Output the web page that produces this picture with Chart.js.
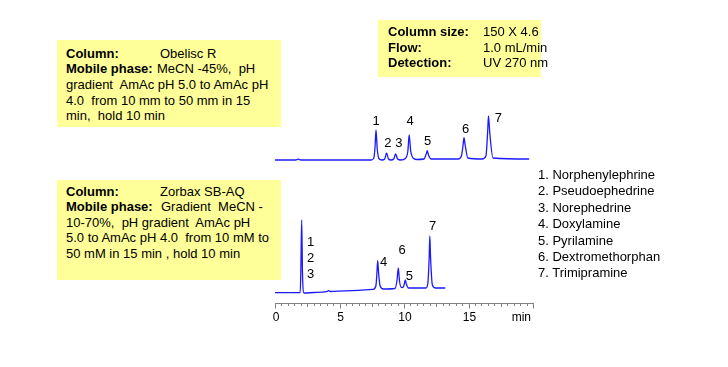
<!DOCTYPE html>
<html>
<head>
<meta charset="utf-8">
<script src="https://cdn.jsdelivr.net/npm/chart.js@4"></script>
<style>
  html, body { margin: 0; padding: 0; background: #fff; }
  body { width: 728px; height: 367px; position: relative; overflow: hidden;
         font-family: Arial, "Liberation Sans", sans-serif; font-size: 13px; color: #000; }
  #chart { position: absolute; left: 0; top: 0; }
  .box { position: absolute; background: #ffff99; box-sizing: border-box; }
  .box div { white-space: pre; }
  .box b { display: inline-block; }
  #legend { position: absolute; left: 538px; top: 167px; line-height: 16.4px; white-space: pre; }
</style>
</head>
<body>
<canvas id="chart" width="728" height="367"></canvas>

<div class="box" style="left:57px;top:40px;width:224px;height:87px;padding:5.5px 0 0 9px;line-height:15.7px;">
  <div><b style="width:94px">Column:</b>Obelisc R</div>
  <div><b style="width:91px">Mobile phase:</b>MeCN -45%,  pH</div>
  <div>gradient  AmAc pH 5.0 to AmAc pH</div>
  <div>4.0  from 10 mm to 50 mm in 15</div>
  <div>min,  hold 10 min</div>
</div>

<div class="box" style="left:57px;top:180px;width:224px;height:100px;padding:4px 0 0 9px;line-height:15.4px;">
  <div><b style="width:94px">Column:</b>Zorbax SB-AQ</div>
  <div><b style="width:95px">Mobile phase:</b>Gradient  MeCN -</div>
  <div>10-70%,  pH gradient  AmAc pH</div>
  <div>5.0 to AmAc pH 4.0  from 10 mM to</div>
  <div>50 mM in 15 min , hold 10 min</div>
</div>

<div class="box" style="left:378px;top:20px;width:163px;height:57px;padding:3.8px 0 0 10px;line-height:15.8px;">
  <div><b style="width:95px">Column size:</b>150 X 4.6</div>
  <div><b style="width:95px">Flow:</b>1.0 mL/min</div>
  <div><b style="width:95px">Detection:</b>UV 270 nm</div>
</div>

<div id="legend"></div>

<script>
// Compounds
const compounds = ['Norphenylephrine', 'Pseudoephedrine', 'Norephedrine', 'Doxylamine',
                   'Pyrilamine', 'Dextromethorphan', 'Trimipramine'];

// Upper chromatogram (Obelisc R): time in min, detector signal
const upperTime = [0, 1.6, 1.8, 2.0, 7.45, 7.65, 7.75, 7.83, 7.92, 8.05, 8.3, 8.5, 8.65, 8.8,
                   9.0, 9.2, 9.35, 9.5, 9.75, 10.1, 10.3, 10.4, 10.52, 10.75, 11.0, 11.55, 11.72,
                   11.8, 11.9, 12.1, 14.2, 14.45, 14.58, 14.65, 14.74, 14.95, 16.05, 16.35, 16.48,
                   16.55, 16.65, 16.9, 19.7];
const upperSignal = [143, 143, 143.8, 143, 143, 144.5, 155, 173, 155, 144.5, 143, 144, 150, 144,
                     143, 144, 149, 144, 143, 144.5, 152, 168, 152, 144.5, 143.5, 144, 149,
                     152.3, 148, 144, 144, 147, 158, 165.3, 158, 145, 144, 147, 170,
                     187, 170, 145, 144];

// Lower chromatogram (Zorbax SB-AQ)
const lowerTime = [0, 1.95, 2.0, 2.07, 2.13, 2.25, 3.0, 4.0, 4.15, 4.3, 5.5, 7.6, 7.82, 7.9,
                   7.96, 8.03, 8.15, 8.4, 9.3, 9.45, 9.56, 9.65, 9.8, 9.95, 10.02, 10.1, 10.18,
                   10.35, 11.7, 11.85, 11.95, 12.0, 12.06, 12.2, 12.45, 13.2];
const lowerSignal = [10.3, 10.3, 30, 83, 30, 10, 10.5, 11.3, 12.3, 11.5, 12.2, 13.7, 17, 30,
                     42.3, 30, 17, 14, 14.5, 22, 35, 22, 15.5, 16, 19, 23, 19,
                     15, 15, 20, 45, 67, 45, 18, 15, 15];

// Peak numbers and where they are written
const peakText = ['1', '2', '3', '4', '5', '6', '7', '1', '2', '3', '4', '6', '5', '7'];
const peakTextTime = [7.83, 8.74, 9.61, 10.47, 11.84, 14.78, 17.31, 2.77, 2.77, 2.77, 8.42, 9.85, 10.42, 12.22];
const peakTextSignal = [181.3, 160, 160, 181.3, 161.3, 173.7, 184.7, 60.3, 45, 29, 41, 53, 26.3, 76.3];

// Time axis
const majorTicks = [0, 5, 10, 15, 20];
const tickLabels = ['0', '5', '10', '15', 'min'];

document.getElementById('legend').textContent =
  compounds.map((c, i) => (i + 1) + '. ' + c).join('\n');

const toPoints = (ts, vs) => ts.map((t, i) => ({ x: t, y: vs[i] }));

const axisAndLabels = {
  id: 'axisAndLabels',
  afterDatasetsDraw(chart) {
    const { ctx, scales: { x, y } } = chart;
    ctx.save();
    const y0 = Math.round(y.getPixelForValue(0)) + 0.5;
    ctx.strokeStyle = '#808080';
    ctx.lineWidth = 1;
    ctx.beginPath();
    ctx.moveTo(x.getPixelForValue(0), y0);
    ctx.lineTo(x.getPixelForValue(20) + 1, y0);
    for (let t = 0; t <= 20; t += 0.5) {
      const px = Math.round(x.getPixelForValue(t)) + 0.5;
      const len = t % 5 === 0 ? 5 : (t % 2.5 === 0 ? 3.5 : 2.5);
      ctx.moveTo(px, y0);
      ctx.lineTo(px, y0 + len);
    }
    ctx.stroke();

    ctx.fillStyle = '#000';
    ctx.font = '12px Arial, "Liberation Sans", sans-serif';
    ctx.textBaseline = 'middle';
    majorTicks.forEach((t, i) => {
      const last = i === majorTicks.length - 1;
      ctx.textAlign = last ? 'right' : 'center';
      ctx.fillText(tickLabels[i], x.getPixelForValue(t) + (last ? -2 : 1), y0 + 14);
    });

    ctx.font = '13px Arial, "Liberation Sans", sans-serif';
    ctx.textAlign = 'center';
    peakText.forEach((s, i) => {
      ctx.fillText(s, x.getPixelForValue(peakTextTime[i]), y.getPixelForValue(peakTextSignal[i]));
    });
    ctx.restore();
  }
};

new Chart(document.getElementById('chart'), {
  type: 'line',
  data: {
    datasets: [
      { data: toPoints(upperTime, upperSignal) },
      { data: toPoints(lowerTime, lowerSignal) }
    ]
  },
  options: {
    responsive: false,
    animation: false,
    devicePixelRatio: 1,
    layout: { padding: { left: 275, right: 195, top: 103, bottom: 64 } },
    elements: {
      point: { radius: 0 },
      line: { borderColor: '#1a1aff', borderWidth: 1.3, cubicInterpolationMode: 'monotone', fill: false }
    },
    scales: {
      x: { type: 'linear', min: 0, max: 20, display: false },
      y: { type: 'linear', min: 0, max: 200, display: false }
    },
    plugins: { legend: { display: false }, tooltip: { enabled: false } }
  },
  plugins: [axisAndLabels]
});
</script>
</body>
</html>
